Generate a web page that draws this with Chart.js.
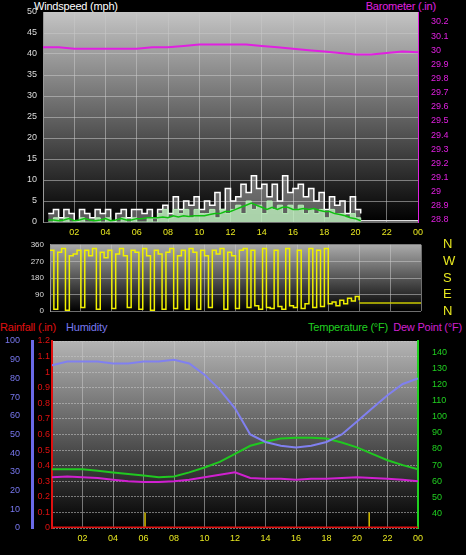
<!DOCTYPE html>
<html><head><meta charset="utf-8">
<script src="https://cdn.jsdelivr.net/npm/chart.js@4"></script>
<style>
body{margin:0;background:#000;width:466px;height:555px;position:relative;overflow:hidden;font-family:"Liberation Sans",Arial,sans-serif}
canvas{position:absolute;left:0}
.t{position:absolute;font-size:11px;line-height:12px;white-space:nowrap;letter-spacing:-0.2px}
</style></head><body>
<div class="t" style="left:34px;top:0;color:#fff">Windspeed (mph)</div>
<div class="t" style="right:30px;top:0;color:#e020e0">Barometer (.in)</div>
<div class="t" style="left:0;top:321px;color:#e01010">Rainfall (.in)</div>
<div class="t" style="left:66px;top:321px;color:#7878f0">Humidity</div>
<div class="t" style="left:308px;top:321px;color:#20d020">Temperature (°F)</div>
<div class="t" style="right:4px;top:321px;color:#d020d0">Dew Point (°F)</div>
<div style="position:absolute;left:0;top:0;width:466px;height:240px"><canvas id="c1"></canvas></div>
<div style="position:absolute;left:0;top:223px;width:466px;height:110px"><canvas id="c2"></canvas></div>
<div style="position:absolute;left:0;top:318px;width:466px;height:237px"><canvas id="c3"></canvas></div>
<script>
// hourly readings 00..24
const hours = [0,1,2,3,4,5,6,7,8,9,10,11,12,13,14,15,16,17,18,19,20,21,22,23,24];
const barometer = [30.02,30.02,30.01,30.01,30.01,30.01,30.01,30.02,30.02,30.03,30.04,30.04,30.04,30.04,30.03,30.02,30.01,30.0,29.99,29.98,29.97,29.97,29.98,29.99,29.985];
const temperature = [67.5,67.5,67.5,66.5,65.5,64.5,63.5,62.5,63,65.5,68.5,72,77,82,84.5,86.5,87,87,86.5,84,81,77,73,70,67.5];
const dewPoint = [62.5,63,62.5,62,61,60,59.5,59.5,60,61,62.5,64,65.5,62,61.5,61.5,61,61.5,61.5,62,62.5,62,61.5,61,60];
const humidity = [87,89,89,89,88,88,89,89,90,88,82,74,64,50,46,44,43,44,46,50,57,64,71,77,80];
const rainfall = [0,0,0,0,0,0,0,0,0,0,0,0,0,0,0,0,0,0,0,0,0,0,0,0,0];
const markTimes = [6.1, 20.8];
const markHeight = 0.1;

// wind every 20 min from 00:20 to 20:20
const windStart = 1/3, windStep = 1/3;
const windGust = [2,3,1,3,2,0,3,2,1,3, 2,3,0,2,3,1,3,3,2,3, 1,3,4,2,6,3,5,4,6,3, 5,4,7,3,8,5,6,9,7,11, 8,9,6,9,5,11,7,8,9,6, 8,5,7,3,6,4,5,2,6,3, 2];
const windAvg = [0.5,0.5,0.3,0.5,0.8,0.3,0.5,0.8,0.5,0.3, 0.5,0.8,0.3,0.5,0.8,0.5,0.5,0.8,0.8,1, 1,1,1.2,1,1.5,1.2,1.5,1.3,1.5,1.5, 1.5,1.8,2,2,2.5,2.5,3,3.5,4,4.5, 4,3.5,3,3.5,3,3.5,3.5,3,3,3.2, 3,3.2,2.8,2.5,2.5,2,1.8,1.5,1,0.8, 0.3];
const windSpeed = [0,1,0,1,0,0,1,0,0,1, 0,1,0,0,1,0,1,0,0,1, 0,2,3,1,3,2,3,1,3,2, 2,3,1,3,2,3,4,2,5,3, 4,2,5,3,4,2,4,3,4,2, 3,2,3,1,3,2,2,1,2,1, 0];
const windTailTimes = [20.33, 24];
const windTail = [0.3, 0.3];

// direction every 15 min from 00:00 to 20:00, then calm
const dirStep = 0.25;
const direction = [330,10,320,340,5,300,310,330,20,330, 300,340,10,320,290,330,15,310,340,300, 20,330,320,10,340,300,5,330,310,10, 320,340,15,300,330,10,340,320,10,330, 300,20,330,310,340,10,320,300,15,330, 340,20,330,30,10,340,20,15,330,25, 10,340,30,20,330,15,40,340,20,330, 25,340,40, 50,30,60,40,70,55,80,60];
const dirTailTimes = [20, 24];
const dirTail = [45, 45];
const compass = {0:'N',90:'E',180:'S',270:'W',360:'N'};
const hourTicks = [2,4,6,8,10,12,14,16,18,20,22,24];

const pts = (xs, ys) => ys.map((y,i)=>({x:xs[i], y}));
const stepPts = (start, step, ys) => ys.map((y,i)=>({x:start+i*step, y}));
const hourLabel = v => String(v%24).padStart(2,'0');
const FONT = {family:'"Liberation Sans", Arial, sans-serif', size:9};
const GRID = {color:'rgba(200,200,200,0.55)', borderDash:[1,2], drawTicks:false};

const panelBg = {
  id:'panelBg',
  beforeDraw(chart, args, opts){
    const {ctx, chartArea:a} = chart;
    const g = ctx.createLinearGradient(0, a.top, 0, a.bottom);
    g.addColorStop(0, opts.top); g.addColorStop(1, '#000');
    ctx.save(); ctx.fillStyle = g; ctx.fillRect(a.left, a.top, a.right-a.left, a.bottom-a.top); ctx.restore();
  }
};
const fixW = w => (s => { s.width = w; });
const xAxis = (show, h) => ({
  type:'linear', min:0, max:24,
  afterBuildTicks: s => { s.ticks = hourTicks.map(v=>({value:v})); },
  grid:GRID, border:{display:false},
  ticks:{display:show, color:'#e8e820', font:FONT, callback:hourLabel, maxRotation:0, padding:5, autoSkip:false},
  afterFit: s => { s.height = h; }
});
const base = pad => ({
  responsive:true, maintainAspectRatio:false, animation:false,
  layout:{padding:pad, autoPadding:false},
  plugins:{legend:{display:false}, tooltip:{enabled:false}},
  elements:{point:{radius:0}, line:{tension:0}}
});

// top: wind + barometer
const o1 = base({top:12, bottom:0});
o1.plugins.panelBg = {top:'#c4c4c4'};
o1.scales = {
  x: xAxis(true, 18),
  y: {min:0, max:50, ticks:{stepSize:5, color:'#ddd', font:FONT, padding:6}, grid:GRID,
      border:{color:'#999'}, afterFit:fixW(43)},
  yb: {position:'right', min:28.785, max:30.27, afterBuildTicks: s => { s.ticks = [28.8,28.9,29,29.1,29.2,29.3,29.4,29.5,29.6,29.7,29.8,29.9,30,30.1,30.2].map(v=>({value:v})); },
      ticks:{color:'#e020e0', font:FONT, padding:5, autoSkip:false, callback:v=>+v.toFixed(1)}, grid:{display:false},
      border:{color:'#e020e0', dash:[1,1]}, afterFit:fixW(48)}
};
new Chart(document.getElementById('c1'), {type:'line', plugins:[panelBg], options:o1, data:{datasets:[
  {data:pts(hours, barometer), yAxisID:'yb', borderColor:'#e020e0', borderWidth:2},
  {data:stepPts(windStart, windStep, windAvg), yAxisID:'y', borderColor:'#10c010', borderWidth:1.5},
  {data:stepPts(windStart, windStep, windSpeed), yAxisID:'y', borderColor:'#b8f0b8', backgroundColor:'rgba(190,240,190,0.8)', fill:'origin', borderWidth:1, stepped:true},
  {data:stepPts(windStart, windStep, windGust), yAxisID:'y', borderColor:'#fff', backgroundColor:'rgba(255,255,255,0.35)', fill:'origin', borderWidth:1.5, stepped:true},
  {data:pts(windTailTimes, windTail), yAxisID:'y', borderColor:'#ddd', borderWidth:1.5}
]}});

// middle: wind direction
const o2 = base({top:0, bottom:0});
o2.plugins.panelBg = {top:'#aaa'};
o2.scales = {
  x: Object.assign(xAxis(false, 0), {ticks:{display:false}}),
  y: {min:0, max:360, ticks:{stepSize:90, color:'#ddd', font:{...FONT, size:8}, padding:6, autoSkip:false}, grid:GRID,
      border:{color:'#999'}, afterFit:fixW(50)},
  yd: {position:'right', min:0, max:360, ticks:{stepSize:90, color:'#e8e820', font:{...FONT, size:13}, padding:14, autoSkip:false, callback:v=>compass[v]},
      grid:{display:false}, border:{display:false}, afterFit:fixW(45)}
};
new Chart(document.getElementById('c2'), {type:'line', plugins:[panelBg], options:o2, data:{datasets:[
  {data:stepPts(0, dirStep, direction), yAxisID:'y', borderColor:'#f0f000', borderWidth:1.5, stepped:true},
  {data:pts(dirTailTimes, dirTail), yAxisID:'y', borderColor:'#c8c800', borderWidth:1.5}
]}});

// bottom: temperature, dew point, humidity, rain
const markData = [];
markTimes.forEach(t => { markData.push({x:t,y:0},{x:t,y:markHeight},{x:t,y:null}); });
const o3 = base({top:23, bottom:5});
o3.plugins.panelBg = {top:'#b4b4b4'};
o3.scales = {
  x: xAxis(true, 22),
  yh: {position:'left', weight:2, min:0, max:100, ticks:{stepSize:10, color:'#7878f0', font:FONT, padding:4},
       grid:{display:false}, border:{color:'#6a6ae8', width:3}, afterFit:fixW(32)},
  y: {position:'left', weight:1, min:0, max:1.2, ticks:{stepSize:0.1, color:'#e01010', font:FONT, padding:2, autoSkip:false, callback:v=>+v.toFixed(1)},
      grid:GRID, border:{color:'#e01010', dash:[2,1], width:2}, afterFit:fixW(20)},
  yt: {position:'right', min:31, max:147, afterBuildTicks: s => { s.ticks = [40,50,60,70,80,90,100,110,120,130,140].map(v=>({value:v})); },
       ticks:{color:'#20d020', font:FONT, padding:6}, grid:{display:false}, border:{color:'#20d020', width:2}, afterFit:fixW(48)}
};
new Chart(document.getElementById('c3'), {type:'line', plugins:[panelBg], options:o3, data:{datasets:[
  {data:pts(hours, humidity), yAxisID:'yh', borderColor:'#8080f0', borderWidth:2},
  {data:pts(hours, temperature), yAxisID:'yt', borderColor:'#20c820', borderWidth:2},
  {data:pts(hours, dewPoint), yAxisID:'yt', borderColor:'#d020d0', borderWidth:2},
  {data:pts(hours, rainfall), yAxisID:'y', borderColor:'#e01010', borderWidth:3},
  {data:markData, yAxisID:'y', borderColor:'#d8c000', borderWidth:1.5, spanGaps:false}
]}});
</script>
</body></html>
